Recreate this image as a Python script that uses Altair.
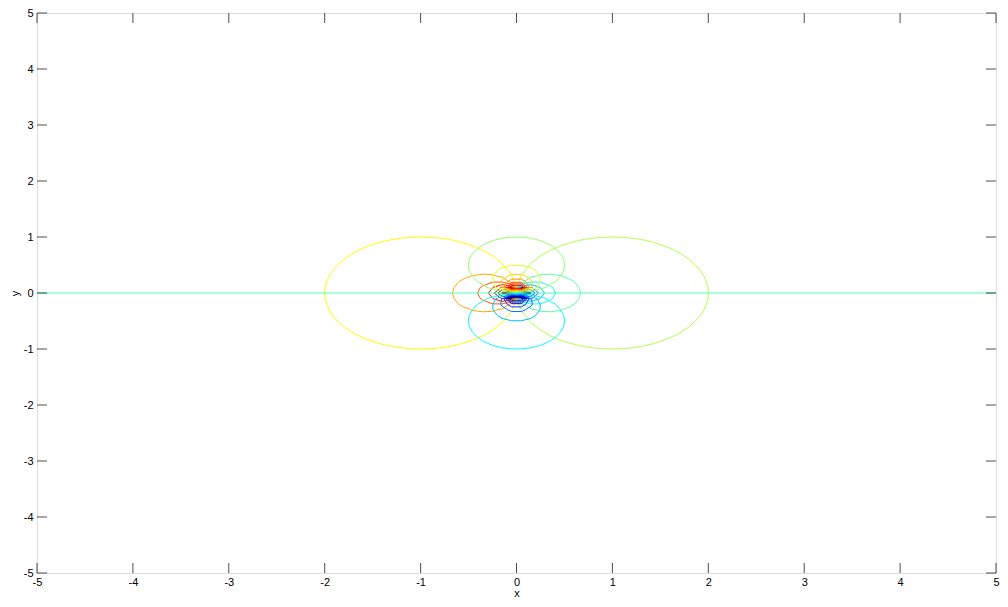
import numpy as np
import pandas as pd
import altair as alt

# ---- data ------------------------------------------------------------
AXIS_MIN, AXIS_MAX = -5, 5
TICKS = [-5, -4, -3, -2, -1, 0, 1, 2, 3, 4, 5]
GRID_NX, GRID_NY = 100, 101          # sampling grid of the contoured field
REAL_LEVELS = [-19.5, -17.5, -15.5, -13.5, -11.5, -9.5, -8.5, -7.5, -6.5, -5.5, -4.5,
               -3.5, -2.5, -1.5, -0.5, 0.5, 1.5, 2.5, 3.5, 4.5, 5.5, 6.5, 7.5, 8.5,
               9.5, 11.5, 13.5, 15.5, 17.5, 19.5]
IMAG_LEVELS = [-8, -7, -6, -5, -4, -3, -2, -1, 0, 1, 2, 3, 4, 5, 6, 7, 8]
REAL_TONE = [0.59, -0.08]            # colormap position = a + b*level
IMAG_TONE = [0.45, -0.07]

# ---- field on the grid: w = 1/z ---------------------------------------
gx = np.linspace(AXIS_MIN, AXIS_MAX, GRID_NX)
gy = np.linspace(AXIS_MIN, AXIS_MAX, GRID_NY)
gy[GRID_NY // 2] = 0.0
X, Y = np.meshgrid(gx, gy)
R2 = X ** 2 + Y ** 2
with np.errstate(all="ignore"):
    U = X / R2
    V = -Y / R2
U[R2 == 0] = np.nan
V[R2 == 0] = np.nan


def contour_segments(F, level):
    """marching squares: returns list of (x1,y1,x2,y2)"""
    segs = []
    c00 = F[:-1, :-1]; c01 = F[:-1, 1:]; c11 = F[1:, 1:]; c10 = F[1:, :-1]
    b00 = c00 >= level; b01 = c01 >= level; b11 = c11 >= level; b10 = c10 >= level
    valid = ~(np.isnan(c00) | np.isnan(c01) | np.isnan(c11) | np.isnan(c10))
    cnt = (b00 != b01).astype(int) + (b01 != b11) + (b11 != b10) + (b10 != b00)
    ii, jj = np.nonzero(valid & (cnt > 0))
    for i, j in zip(ii, jj):
        corners = [(gx[j], gy[i], F[i, j]), (gx[j + 1], gy[i], F[i, j + 1]),
                   (gx[j + 1], gy[i + 1], F[i + 1, j + 1]), (gx[j], gy[i + 1], F[i + 1, j])]
        pts = []
        for k in range(4):
            xa, ya, va = corners[k]
            xb, yb, vb = corners[(k + 1) % 4]
            if (va >= level) != (vb >= level):
                t = (level - va) / (vb - va)
                pts.append((xa + t * (xb - xa), ya + t * (yb - ya)))
        for k in range(0, len(pts) - 1, 2):
            segs.append((pts[k][0], pts[k][1], pts[k + 1][0], pts[k + 1][1]))
    return segs


rows = []
for fam, F, levels, tone in (("real", U, REAL_LEVELS, REAL_TONE),
                             ("imag", V, IMAG_LEVELS, IMAG_TONE)):
    for lv in levels:
        tn = float(np.clip(tone[0] + tone[1] * lv, 0, 1))
        for x1, y1, x2, y2 in contour_segments(F, lv):
            rows.append({"family": fam, "level": lv, "tone": round(tn, 4),
                         "x1": round(x1, 5), "y1": round(y1, 5),
                         "x2": round(x2, 5), "y2": round(y2, 5)})
seg_df = pd.DataFrame(rows)
tick_df = pd.DataFrame({"v": TICKS})

# ---- chart -----------------------------------------------------------
xscale = alt.Scale(domain=[AXIS_MIN, AXIS_MAX], nice=False, zero=False)
yscale = alt.Scale(domain=[AXIS_MIN, AXIS_MAX], nice=False, zero=False)
jet = alt.Scale(domain=[0, 0.125, 0.375, 0.625, 0.875, 1],
                range=["#000080", "#0000ff", "#00ffff", "#ffff00", "#ff0000", "#800000"],
                interpolate="rgb")

axis_common = dict(values=TICKS, labelExpr="'' + datum.value", ticks=False, domain=False,
                   grid=False, labelFlush=False, labelOverlap=False,
                   labelFont="Liberation Sans", labelFontSize=11, labelColor="#000000",
                   titleFont="Liberation Sans", titleFontSize=11, titleFontWeight="normal",
                   titleColor="#000000")

lines = alt.Chart(seg_df).mark_rule(strokeWidth=1, clip=True).encode(
    x=alt.X("x1:Q", scale=xscale,
            axis=alt.Axis(title="x", labelPadding=3, titleBaseline="alphabetic",
                          titleY=23, **axis_common)),
    y=alt.Y("y1:Q", scale=yscale,
            axis=alt.Axis(title="y", labelPadding=4, titlePadding=3, **axis_common)),
    x2="x2:Q", y2="y2:Q",
    color=alt.Color("tone:Q", scale=jet, legend=None),
)

tick_style = dict(color="black", thickness=1, size=10)
t_bottom = alt.Chart(tick_df).mark_tick(orient="vertical", yOffset=-5, **tick_style).encode(
    x=alt.X("v:Q", scale=xscale), y=alt.datum(AXIS_MIN))
t_top = alt.Chart(tick_df).mark_tick(orient="vertical", yOffset=5, **tick_style).encode(
    x=alt.X("v:Q", scale=xscale), y=alt.datum(AXIS_MAX))
t_left = alt.Chart(tick_df).mark_tick(orient="horizontal", xOffset=5, **tick_style).encode(
    y=alt.Y("v:Q", scale=yscale), x=alt.datum(AXIS_MIN))
t_right = alt.Chart(tick_df).mark_tick(orient="horizontal", xOffset=-5, **tick_style).encode(
    y=alt.Y("v:Q", scale=yscale), x=alt.datum(AXIS_MAX))

chart = alt.layer(lines, t_bottom, t_top, t_left, t_right).properties(
    width=959, height=560,
    autosize=alt.AutoSizeParams(type="none"),
    padding={"left": 29, "top": 5, "right": 4, "bottom": 24},
).configure_view(stroke="#000000", strokeWidth=1).configure(background="white")

chart.save("out.html", embed_options={"renderer": "svg", "actions": False})
